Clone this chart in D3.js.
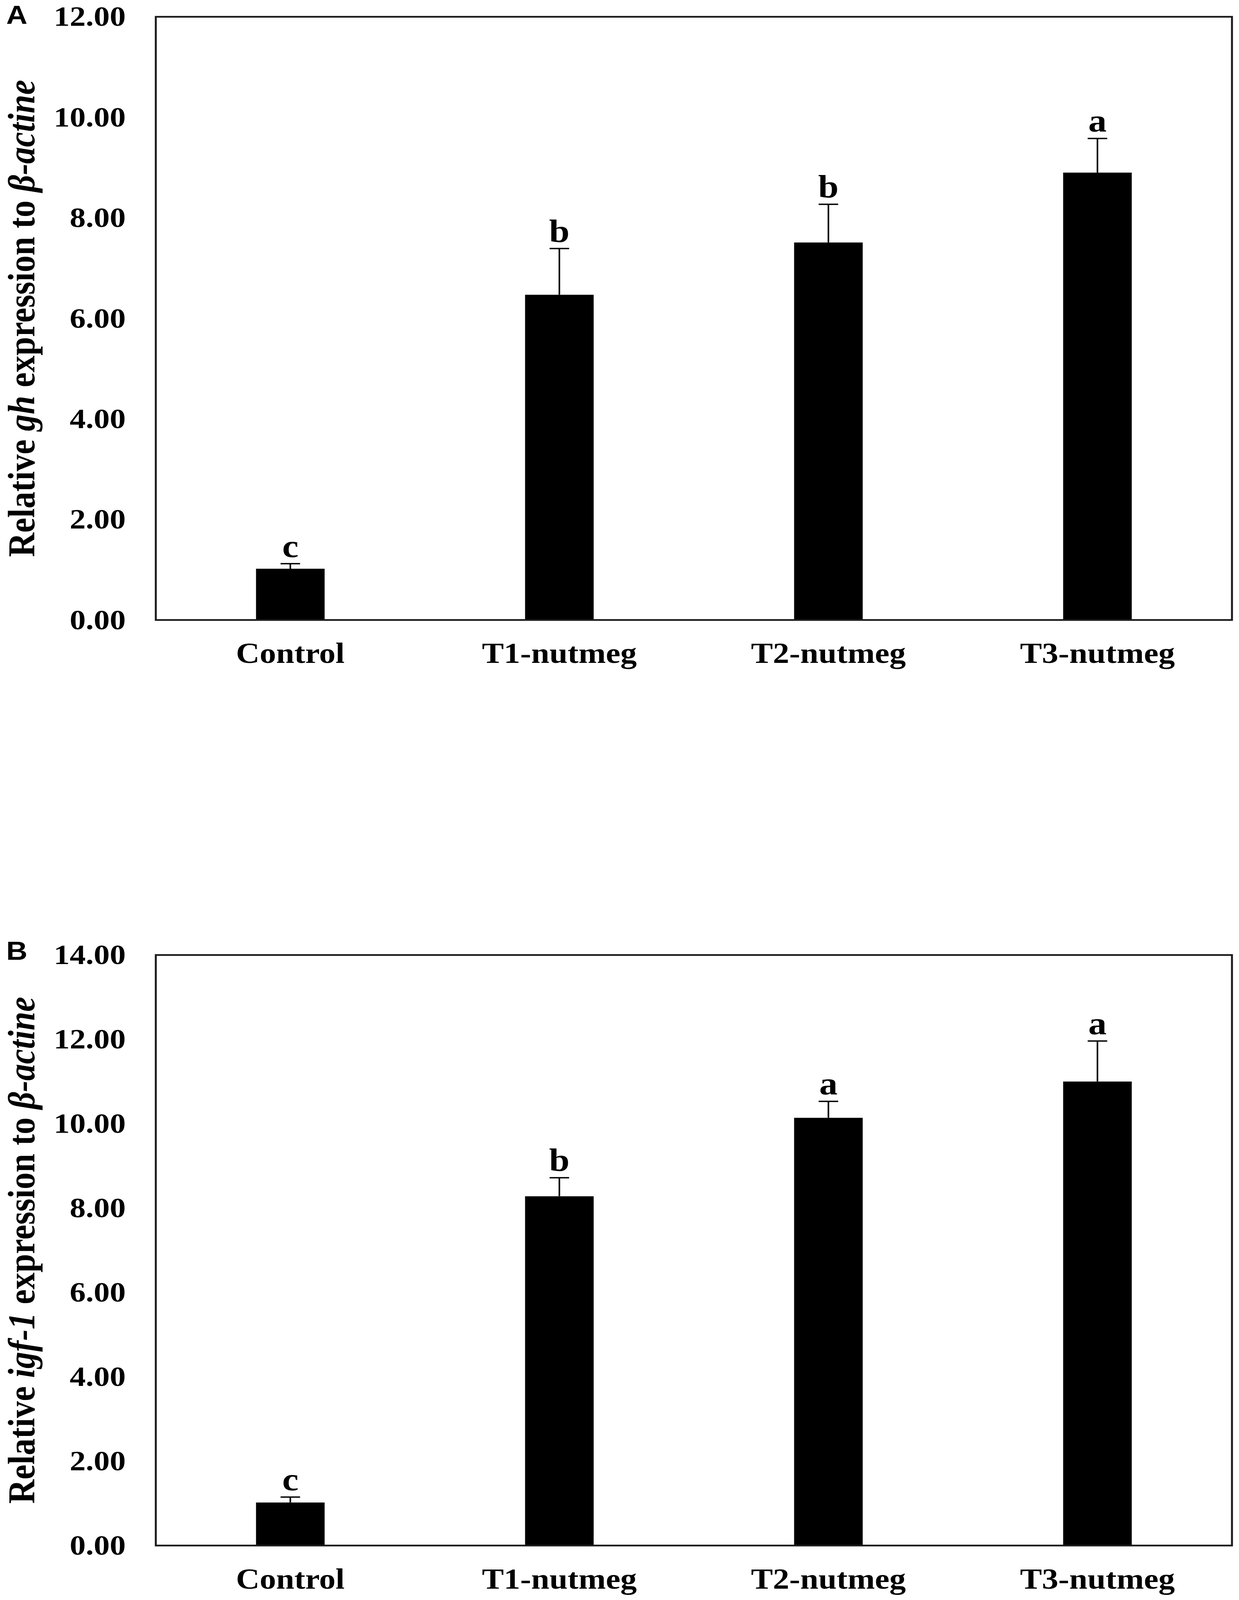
<html>

<head>
    <style>
        html, body { margin: 0; padding: 0; background: #ffffff; overflow: hidden; }
        svg { display: block; }
    </style>
    <script src="https://cdn.jsdelivr.net/npm/d3@7"></script>
</head>

<body>
    <svg id="figura"></svg>

<script>
    // categorias y valores
    let categorias = ["Control", "T1-nutmeg", "T2-nutmeg", "T3-nutmeg"];

    let ghMedia  = [1.02, 6.47, 7.51, 8.90];
    let ghError  = [0.10, 0.92, 0.76, 0.68];
    let ghLetras = ["c", "b", "b", "a"];
    let ghTicks  = [0, 2, 4, 6, 8, 10, 12];

    let igfMedia  = [1.02, 8.28, 10.14, 11.00];
    let igfError  = [0.13, 0.44, 0.39, 0.96];
    let igfLetras = ["c", "b", "a", "a"];
    let igfTicks  = [0, 2, 4, 6, 8, 10, 12, 14];

    let ancho = 3173;
    let alto = 4671;
    let serif = "'Liberation Serif', 'Times New Roman', serif";

    // la figura se ajusta a la ventana visible para que no se corte abajo
    let anchoVentana = window.innerWidth || ancho;
    let altoVentana = window.innerHeight || alto;

    let svg = d3.select("#figura")
        .attr("viewBox", `0 0 ${ancho} ${alto}`)
        .attr("preserveAspectRatio", "none")
        .attr("width", anchoVentana)
        .attr("height", altoVentana);

    svg.append("rect").attr("width", ancho).attr("height", alto).attr("fill", "#ffffff");

    function dibujarPanel(conf) {
        let { letra, letraY, arriba, abajo, media, error, letras, ticks, gen } = conf;
        let izquierda = 399, derecha = 3155;

        let escalaX = d3.scaleBand()
            .domain(categorias)
            .range([izquierda, derecha])
            .paddingInner(0.745)
            .paddingOuter(0.3725);

        let escalaY = d3.scaleLinear()
            .domain([0, d3.max(ticks)])
            .range([abajo, arriba]);

        let datos = categorias.map((c, i) => ({ nombre: c, media: media[i], error: error[i], letra: letras[i] }));
        let g = svg.append("g");

        // barras
        g.selectAll(".barra")
            .data(datos)
            .enter().append("rect")
                .attr("class", "barra")
                .attr("x", d => escalaX(d.nombre))
                .attr("width", escalaX.bandwidth())
                .attr("y", d => escalaY(d.media))
                .attr("height", d => escalaY(0) - escalaY(d.media))
                .attr("fill", "#000000");

        // barras de error (solo hacia arriba)
        let centro = d => escalaX(d.nombre) + escalaX.bandwidth() / 2;
        g.selectAll(".error")
            .data(datos)
            .enter().append("line")
                .attr("x1", centro).attr("x2", centro)
                .attr("y1", d => escalaY(d.media))
                .attr("y2", d => escalaY(d.media + d.error))
                .attr("stroke", "#000").attr("stroke-width", 4);

        g.selectAll(".tapa")
            .data(datos)
            .enter().append("line")
                .attr("x1", d => centro(d) - 25).attr("x2", d => centro(d) + 25)
                .attr("y1", d => escalaY(d.media + d.error))
                .attr("y2", d => escalaY(d.media + d.error))
                .attr("stroke", "#000").attr("stroke-width", 4);

        // letras de significancia
        g.selectAll(".letra")
            .data(datos)
            .enter().append("text")
                .attr("x", centro)
                .attr("y", d => escalaY(d.media + d.error) - 20)
                .attr("text-anchor", "middle")
                .style("font-family", serif)
                .style("font-weight", "bold")
                .style("font-size", "94px")
                .text(d => d.letra);

        // marco
        g.append("rect")
            .attr("x", izquierda).attr("y", arriba)
            .attr("width", derecha - izquierda).attr("height", abajo - arriba)
            .attr("fill", "none").attr("stroke", "#1a1a1a").attr("stroke-width", 5);

        // ejes
        let ejeY = d3.axisLeft(escalaY).tickValues(ticks).tickFormat(d3.format(".2f"))
            .tickSize(0).tickPadding(77);
        let gy = g.append("g").attr("transform", `translate(${izquierda},0)`).call(ejeY);
        gy.select(".domain").remove();
        gy.selectAll("text")
            .style("font-family", serif).style("font-weight", "bold")
            .style("font-size", "82px").attr("fill", "#000");

        let ejeX = d3.axisBottom(escalaX).tickSize(0).tickPadding(66);
        let gx = g.append("g").attr("transform", `translate(0,${abajo})`).call(ejeX);
        gx.select(".domain").remove();
        gx.selectAll("text")
            .style("font-family", serif).style("font-weight", "bold")
            .style("font-size", "84px").attr("fill", "#000");

        // titulo del eje Y
        let titulo = g.append("text")
            .attr("transform", `translate(88,${(arriba + abajo) / 2}) rotate(-90)`)
            .attr("text-anchor", "middle")
            .style("font-family", serif)
            .style("font-weight", "bold")
            .style("font-size", "98px");
        titulo.append("tspan").text("Relative ");
        titulo.append("tspan").style("font-style", "italic").text(gen);
        titulo.append("tspan").text(" expression to ");
        titulo.append("tspan").style("font-style", "italic").text("β-actine");

        // letra del panel
        g.append("text")
            .attr("x", 16).attr("y", letraY)
            .style("font-family", "'Liberation Sans', Arial, sans-serif")
            .style("font-weight", "bold")
            .style("font-size", "75px")
            .text(letra);
    }

    dibujarPanel({ letra: "A", letraY: 70, arriba: 49, abajo: 1810,
        media: ghMedia, error: ghError, letras: ghLetras, ticks: ghTicks, gen: "gh" });

    dibujarPanel({ letra: "B", letraY: 2802, arriba: 2788, abajo: 4512,
        media: igfMedia, error: igfError, letras: igfLetras, ticks: igfTicks, gen: "igf-1" });
</script>
</body>
</html>
